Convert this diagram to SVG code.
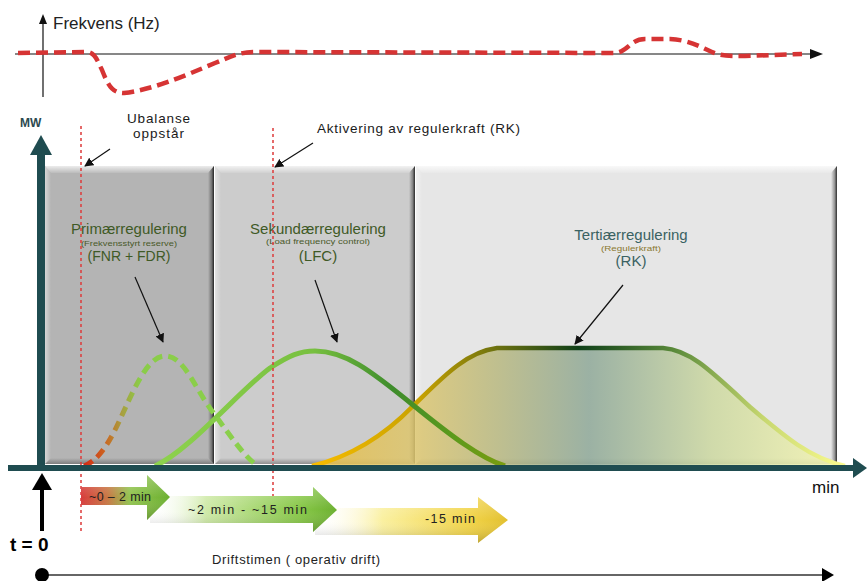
<svg xmlns="http://www.w3.org/2000/svg" width="867" height="581" viewBox="0 0 867 581">
<defs>
<style>
text{font-family:"Liberation Sans",Arial,sans-serif}
.lbl{font-size:15px;fill:#3f5a26;text-anchor:middle}
.sub{font-size:8px;fill:#4a5a2a;text-anchor:middle}
.ann{font-size:13.5px;fill:#1a1a1a}
.tarr{font-size:12.5px;fill:#222}
.red{stroke:#dd3a3a;stroke-width:1.5;stroke-dasharray:3,3;fill:none}
.thin{stroke:#111;stroke-width:1.2;fill:none}
</style>
<marker id="ah" viewBox="0 0 10 10" refX="9" refY="5" markerWidth="9" markerHeight="9" orient="auto" markerUnits="userSpaceOnUse">
<path d="M0,0 L10,5 L0,10 Z" fill="#111"/>
</marker>
<linearGradient id="bevTop" x1="0" y1="0" x2="0" y2="1"><stop offset="0" stop-color="#fff" stop-opacity="0.75"/><stop offset="1" stop-color="#fff" stop-opacity="0.1"/></linearGradient>
<linearGradient id="bevLeft" x1="0" y1="0" x2="1" y2="0"><stop offset="0" stop-color="#fff" stop-opacity="0.45"/><stop offset="1" stop-color="#fff" stop-opacity="0"/></linearGradient>
<linearGradient id="bevRight" x1="0" y1="0" x2="1" y2="0"><stop offset="0" stop-color="#000" stop-opacity="0"/><stop offset="0.6" stop-color="#000" stop-opacity="0.35"/><stop offset="1" stop-color="#000" stop-opacity="0.8"/></linearGradient>
<linearGradient id="bevBot" x1="0" y1="0" x2="0" y2="1"><stop offset="0" stop-color="#000" stop-opacity="0"/><stop offset="1" stop-color="#000" stop-opacity="0.3"/></linearGradient>
<linearGradient id="gPrim" gradientUnits="userSpaceOnUse" x1="84" y1="0" x2="258" y2="0">
<stop offset="0" stop-color="#d42a14"/><stop offset="0.12" stop-color="#cc6420"/><stop offset="0.22" stop-color="#a8a040"/><stop offset="0.32" stop-color="#8acc48"/><stop offset="1" stop-color="#8ad04c"/></linearGradient>
<linearGradient id="gSec" gradientUnits="userSpaceOnUse" x1="155" y1="0" x2="505" y2="0">
<stop offset="0" stop-color="#8ed24e"/><stop offset="0.45" stop-color="#78c040"/><stop offset="0.68" stop-color="#3e8c2c"/><stop offset="0.85" stop-color="#5c9a1c"/><stop offset="1" stop-color="#7a9c10"/></linearGradient>
<linearGradient id="gTerS" gradientUnits="userSpaceOnUse" x1="312" y1="0" x2="845" y2="0">
<stop offset="0" stop-color="#f8bc00"/><stop offset="0.2" stop-color="#c8a200"/><stop offset="0.35" stop-color="#6a7010"/><stop offset="0.5" stop-color="#0f3f18"/><stop offset="0.68" stop-color="#5a8a3a"/><stop offset="0.85" stop-color="#c8d870"/><stop offset="1" stop-color="#fbfb90"/></linearGradient>
<linearGradient id="gTerF" gradientUnits="userSpaceOnUse" x1="312" y1="0" x2="845" y2="0">
<stop offset="0" stop-color="#e8be48"/><stop offset="0.2" stop-color="#dcc670"/><stop offset="0.35" stop-color="#b8b880"/><stop offset="0.52" stop-color="#8ea898"/><stop offset="0.75" stop-color="#ccd8a0"/><stop offset="1" stop-color="#f6f6b0"/></linearGradient>
<linearGradient id="gA1" gradientUnits="userSpaceOnUse" x1="81" y1="0" x2="170" y2="0">
<stop offset="0" stop-color="#d83c3c"/><stop offset="0.3" stop-color="#c87844"/><stop offset="0.55" stop-color="#92c450"/><stop offset="1" stop-color="#6cb030"/></linearGradient>
<linearGradient id="gA2" gradientUnits="userSpaceOnUse" x1="150" y1="0" x2="337" y2="0">
<stop offset="0" stop-color="#ffffff" stop-opacity="0"/><stop offset="0.3" stop-color="#cfeaa8"/><stop offset="0.8" stop-color="#88c848"/><stop offset="1" stop-color="#6cb030"/></linearGradient>
<linearGradient id="gA3" gradientUnits="userSpaceOnUse" x1="315" y1="0" x2="508" y2="0">
<stop offset="0" stop-color="#ffffff" stop-opacity="0"/><stop offset="0.35" stop-color="#faf0a0"/><stop offset="0.8" stop-color="#f2d448"/><stop offset="1" stop-color="#e2c030"/></linearGradient>
<linearGradient id="gShade" x1="0" y1="0" x2="0" y2="1"><stop offset="0" stop-color="#fff" stop-opacity="0.25"/><stop offset="0.5" stop-color="#fff" stop-opacity="0"/><stop offset="1" stop-color="#000" stop-opacity="0.2"/></linearGradient>
</defs>
<rect width="867" height="581" fill="#fff"/>

<!-- frequency panel -->
<g id="freq">
<line x1="43" y1="97" x2="43" y2="22" stroke="#111" stroke-width="1.2"/>
<path d="M39,24 L43,14 L47,24 Z" fill="#111"/>
<line x1="15" y1="54" x2="812" y2="54" stroke="#111" stroke-width="1.2"/>
<path d="M810,49 L823,54 L810,59 Z" fill="#111"/>
<text x="53" y="29" style="font-size:17px;fill:#222">Frekvens (Hz)</text>
<path d="M18,53 L86,52 C95,52 97,60 102,70 C108,85 112,93 124,93 C150,90 180,78 215,63 C232,56 240,52 255,52 L615,53 C628,52 630,39 645,39 L670,39 C690,40 700,47 712,52 C720,56 730,56 745,56 L802,54" fill="none" stroke="#d63434" stroke-width="4.5" stroke-dasharray="12,6"/>
</g>

<!-- boxes -->
<g id="box1">
<rect x="45" y="166" width="169" height="298" fill="#b4b4b4"/>
<polygon points="45,166 214,166 208,173 51,173" fill="url(#bevTop)"/>
<polygon points="45,166 51,173 51,458 45,464" fill="url(#bevLeft)"/>
<polygon points="214,166 214,464 208,458 208,173" fill="url(#bevRight)"/>
<polygon points="45,464 214,464 208,458 51,458" fill="url(#bevBot)"/>
</g>
<g id="box2">
<rect x="215" y="166" width="200" height="298" fill="#cccccc"/>
<polygon points="215,166 415,166 409,173 221,173" fill="url(#bevTop)"/>
<polygon points="215,166 221,173 221,458 215,464" fill="url(#bevLeft)"/>
<polygon points="415,166 415,464 409,458 409,173" fill="url(#bevRight)"/>
<polygon points="215,464 415,464 409,458 221,458" fill="url(#bevBot)"/>
</g>
<g id="box3">
<rect x="416" y="166" width="421" height="298" fill="#e6e6e6"/>
<polygon points="416,166 837,166 831,173 422,173" fill="url(#bevTop)"/>
<polygon points="416,166 422,173 422,458 416,464" fill="url(#bevLeft)"/>
<polygon points="837,166 837,464 831,458 831,173" fill="url(#bevRight)"/>
<polygon points="416,464 837,464 831,458 422,458" fill="url(#bevBot)"/>
</g>

<!-- tertiary fill -->
<g id="tertiary">
<path d="M312,466 C345,458 380,440 413,406 C440,380 465,352 497,348 L663,348 C690,350 710,370 750,407 C785,437 810,458 845,466 Z" fill="url(#gTerF)" fill-opacity="0.85"/>
<path d="M312,466 C345,458 380,440 413,406 C440,380 465,352 497,348 L663,348 C690,350 710,370 750,407 C785,437 810,458 845,466" fill="none" stroke="url(#gTerS)" stroke-width="4.5"/>
</g>

<!-- secondary and primary curves -->
<g id="secondary">
<path d="M155,466 C190,450 240,390 270,368 C290,355 300,351 315,351 C345,351 370,370 413,405 C450,435 480,458 505,466" fill="none" stroke="url(#gSec)" stroke-width="5"/>
</g>
<g id="primary">
<path d="M84,466 C95,462 105,450 115,430 C130,400 145,356 165,356 C185,356 195,390 215,415 C230,435 245,458 258,466" fill="none" stroke="url(#gPrim)" stroke-width="5" stroke-dasharray="10,6"/>
</g>

<!-- labels -->
<g id="labels">
<text class="lbl" x="129" y="234">Primærregulering</text>
<text class="sub" x="129" y="246" textLength="96" lengthAdjust="spacingAndGlyphs">(Frekvensstyrt reserve)</text>
<text class="lbl" x="129" y="261" style="font-size:14px">(FNR + FDR)</text>
<text class="lbl" x="318" y="234">Sekundærregulering</text>
<text class="sub" x="318" y="244" textLength="104" lengthAdjust="spacingAndGlyphs">(Load frequency control)</text>
<text class="lbl" x="318" y="261">(LFC)</text>
<text class="lbl" x="631" y="240" style="fill:#3a6262">Tertiærregulering</text>
<text class="sub" x="631" y="251" style="fill:#8a7830" textLength="60" lengthAdjust="spacingAndGlyphs">(Regulerkraft)</text>
<text class="lbl" x="631" y="266" style="fill:#3a6262">(RK)</text>
<text x="20" y="127" style="font-size:12px;font-weight:bold;fill:#2c4a50">MW</text>
<text class="ann" x="127" y="123" textLength="63">Ubalanse</text>
<text class="ann" x="133" y="138" textLength="51">oppstår</text>
<text class="ann" x="317" y="133" textLength="203">Aktivering av regulerkraft (RK)</text>
<text x="812" y="493" style="font-size:17px;fill:#111">min</text>
</g>

<!-- connectors -->
<g id="connectors">
<line class="red" x1="81" y1="126" x2="81" y2="533"/>
<line class="red" x1="273" y1="128" x2="273" y2="496"/>
<line class="thin" x1="110" y1="149" x2="85" y2="166" marker-end="url(#ah)"/>
<line class="thin" x1="313" y1="143" x2="275" y2="167" marker-end="url(#ah)"/>
<line class="thin" x1="135" y1="277" x2="163" y2="342" marker-end="url(#ah)"/>
<line class="thin" x1="315" y1="280" x2="337" y2="342" marker-end="url(#ah)"/>
<line class="thin" x1="623" y1="285" x2="575" y2="344" marker-end="url(#ah)"/>
</g>

<!-- axes -->
<g id="axes">
<line x1="41" y1="150" x2="41" y2="468" stroke="#1f4c50" stroke-width="8"/>
<path d="M30,155 L41,135 L52,155 Z" fill="#1f4c50"/>
<line x1="8" y1="468" x2="856" y2="468" stroke="#1f4c50" stroke-width="6"/>
<path d="M853,458 L867,468 L853,478 Z" fill="#1f4c50"/>
</g>

<!-- time arrows -->
<g id="arrow3">
<polygon points="315,508 478,508 478,497 508,520 478,543 478,535 315,535" fill="url(#gA3)"/>
<polygon points="315,508 478,508 478,497 508,520 478,543 478,535 315,535" fill="url(#gShade)"/>
<text class="tarr" x="425" y="523" textLength="50">-15 min</text>
</g>
<g id="arrow2">
<polygon points="150,496 313,496 313,487 337,510 313,532 313,523 150,523" fill="url(#gA2)"/>
<polygon points="150,496 313,496 313,487 337,510 313,532 313,523 150,523" fill="url(#gShade)"/>
<text class="tarr" x="188" y="514" textLength="119">~2 min - ~15 min</text>
</g>
<g id="arrow1">
<polygon points="81,487 147,487 147,475 170,497 147,520 147,505 81,505" fill="url(#gA1)"/>
<polygon points="81,487 147,487 147,475 170,497 147,520 147,505 81,505" fill="url(#gShade)"/>
<text class="tarr" x="89" y="501" textLength="62">~0 – 2 min</text>
</g>

<!-- t = 0 and timeline -->
<g id="t0">
<line x1="42" y1="531" x2="42" y2="486" stroke="#000" stroke-width="4"/>
<path d="M32,490 L42,473 L52,490 Z" fill="#000"/>
<text x="10" y="551" style="font-size:19px;font-weight:bold;fill:#000">t = 0</text>
</g>
<g id="timeline">
<text x="212" y="564" style="font-size:13px;fill:#222" textLength="168">Driftstimen ( operativ drift)</text>
<line x1="42" y1="575" x2="826" y2="575" stroke="#333" stroke-width="1.5"/>
<path d="M822,568 L834,575 L822,582 Z" fill="#000"/>
<circle cx="42" cy="575" r="7" fill="#000"/>
</g>
</svg>
